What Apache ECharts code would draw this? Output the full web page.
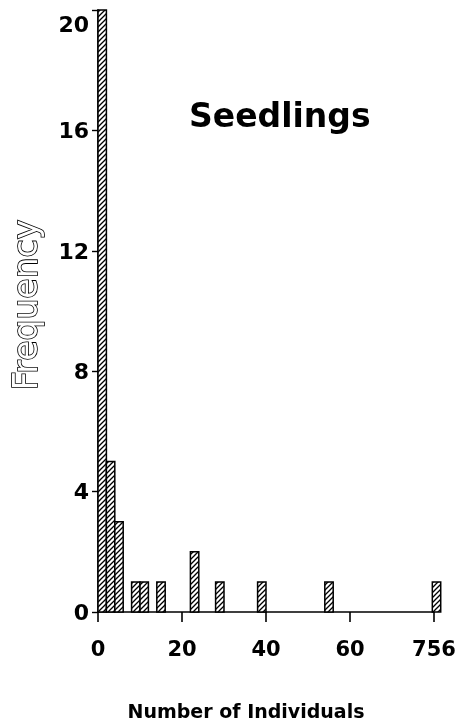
<!DOCTYPE html>
<html>
<head>
<meta charset="utf-8">
<script src="https://cdn.jsdelivr.net/npm/echarts@6/dist/echarts.min.js"></script>
<style>
html,body{margin:0;padding:0;background:#fff;}
#chart{width:468px;height:726px;}
</style>
</head>
<body>
<div id="chart"></div>
<script>
// Histogram bins (Number of Individuals) and their frequencies
const binStarts = [0, 2, 4, 8, 10, 14, 22, 28, 38, 54, 79.6];
const binEnds   = [2, 4, 6, 10, 12, 16, 24, 30, 40, 56, 81.6];
const frequencies = [20, 5, 3, 1, 1, 1, 2, 1, 1, 1, 1];
// x tick labels: last position stands for the outlier value 756 (broken axis)
const xTickValues = [0, 20, 40, 60, 80];
const xTickLabels = ['0', '20', '40', '60', '756'];
const yTickLabels = ['0', '4', '8', '12', '16', '20'];

// hatch pattern
const T = 5;
const tile = document.createElement('canvas');
tile.width = T; tile.height = T;
const ctx = tile.getContext('2d');
ctx.fillStyle = '#fff';
ctx.fillRect(0, 0, T, T);
ctx.strokeStyle = '#000';
ctx.lineWidth = 1.3;
ctx.beginPath();
ctx.moveTo(0, T); ctx.lineTo(T, 0);
ctx.moveTo(-1, 1); ctx.lineTo(1, -1);
ctx.moveTo(T - 1, T + 1); ctx.lineTo(T + 1, T - 1);
ctx.stroke();
const hatch = { image: tile, repeat: 'repeat' };

const data = binStarts.map((s, i) => [s, binEnds[i], frequencies[i]]);

const chart = echarts.init(document.getElementById('chart'), null, { renderer: 'canvas' });
const FONT = 'DejaVu Sans';
chart.setOption({
  animation: false,
  backgroundColor: '#fff',
  title: {
    text: 'Seedlings',
    left: 184,
    top: 97,
    textStyle: { fontFamily: FONT, fontWeight: 'bold', fontSize: 33, color: '#000' }
  },
  grid: { left: 98, right: 34, top: 10, bottom: 114, outerBoundsMode: 'none', containLabel: false },
  xAxis: {
    type: 'value',
    min: 0, max: 80, interval: 20,
    name: 'Number of Individuals',
    nameLocation: 'middle',
    nameGap: 92,
    nameTextStyle: { fontFamily: FONT, fontWeight: 'bold', fontSize: 19, color: '#000', padding: [0, 40, 0, 0] },
    axisLine: { show: true, lineStyle: { color: '#000', width: 1.6 } },
    axisTick: { show: true, length: 10, lineStyle: { color: '#000', width: 1.6 } },
    splitLine: { show: false },
    axisLabel: {
      margin: 28,
      fontFamily: FONT, fontWeight: 'bold', fontSize: 21, color: '#000',
      formatter: v => { const i = xTickValues.indexOf(v); return i >= 0 ? xTickLabels[i] : ''; }
    }
  },
  yAxis: {
    type: 'value',
    min: 0, max: 20, interval: 4,
    name: 'Frequency',
    nameLocation: 'middle',
    nameGap: 53,
    nameTextStyle: { fontFamily: FONT, fontSize: 33, color: '#fff', textBorderColor: '#000', textBorderWidth: 1.6, padding: [0, 0, 0, 12] },
    axisLine: { show: true, lineStyle: { color: '#000', width: 1.6 } },
    axisTick: { show: true, length: 6, lineStyle: { color: '#000', width: 1.4 } },
    splitLine: { show: false },
    axisLabel: {
      margin: 9,
      fontFamily: FONT, fontWeight: 'bold', fontSize: 22, color: '#000',
      verticalAlignMaxLabel: 'top',
      formatter: v => v === 20 ? '{top|' + yTickLabels[5] + '}' : '{n|' + yTickLabels[Math.round(v / 4)] + '}',
      rich: {
        top: { fontFamily: FONT, fontWeight: 'bold', fontSize: 22, color: '#000', padding: [5, 0, 0, 0] },
        n: { fontFamily: FONT, fontWeight: 'bold', fontSize: 22, color: '#000', padding: [4, 0, 0, 0] }
      }
    }
  },
  series: [{
    type: 'custom',
    clip: false,
    data: data,
    encode: { x: [0, 1], y: 2 },
    renderItem: function (params, api) {
      const p0 = api.coord([api.value(0), api.value(2)]);
      const p1 = api.coord([api.value(1), 0]);
      return {
        type: 'rect',
        shape: { x: p0[0], y: p0[1], width: p1[0] - p0[0], height: p1[1] - p0[1] },
        style: { fill: hatch, stroke: '#000', lineWidth: 1.5 }
      };
    }
  }]
});
</script>
</body>
</html>
